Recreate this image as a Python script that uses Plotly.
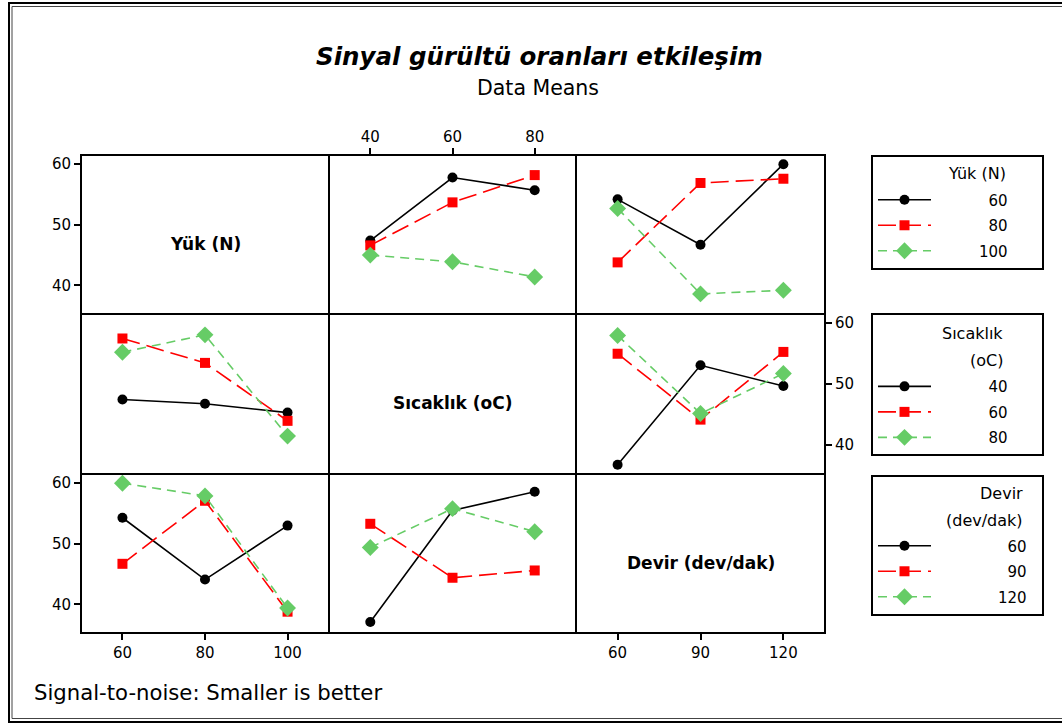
import plotly.graph_objects as go

W, H = 1062, 724

# ---------------- text ----------------
title_text = "Sinyal gürültü oranları etkileşim"
subtitle_text = "Data Means"
footer_text = "Signal-to-noise: Smaller is better"
factor_names = ["Yük (N)", "Sıcaklık (oC)", "Devir (dev/dak)"]
legend_titles = [["Yük (N)"], ["Sıcaklık", "(oC)"], ["Devir", "(dev/dak)"]]

# ---------------- factor levels (x categories / legend entries) ----------------
yuk_levels = ["60", "80", "100"]
sicaklik_levels = ["40", "60", "80"]
devir_levels = ["60", "90", "120"]
y_ticks = [40, 50, 60]

# ---------------- data means (S/N ratios) ----------------
# row 1: series = Yük (60, 80, 100)
yuk60_vs_sicaklik = [47.4, 57.8, 55.7]
yuk80_vs_sicaklik = [46.6, 53.7, 58.2]
yuk100_vs_sicaklik = [45.0, 43.9, 41.4]
yuk60_vs_devir = [54.2, 46.7, 60.0]
yuk80_vs_devir = [43.8, 56.9, 57.6]
yuk100_vs_devir = [52.7, 38.6, 39.2]
# row 2: series = Sıcaklık (40, 60, 80)
sic40_vs_yuk = [47.5, 46.8, 45.35]
sic60_vs_yuk = [57.5, 53.5, 44.0]
sic80_vs_yuk = [55.25, 58.1, 41.5]
sic40_vs_devir = [36.8, 53.1, 49.7]
sic60_vs_devir = [55.0, 44.2, 55.3]
sic80_vs_devir = [58.0, 45.2, 51.75]
# row 3: series = Devir (60, 90, 120)
dev60_vs_yuk = [54.3, 44.1, 53.0]
dev90_vs_yuk = [46.7, 57.1, 38.8]
dev120_vs_yuk = [60.0, 57.9, 39.4]
dev60_vs_sicaklik = [37.1, 55.5, 58.6]
dev90_vs_sicaklik = [53.3, 44.4, 45.6]
dev120_vs_sicaklik = [49.4, 55.8, 52.0]

levels = [yuk_levels, sicaklik_levels, devir_levels]
panels = {
    (0, 1): [yuk60_vs_sicaklik, yuk80_vs_sicaklik, yuk100_vs_sicaklik],
    (0, 2): [yuk60_vs_devir, yuk80_vs_devir, yuk100_vs_devir],
    (1, 0): [sic40_vs_yuk, sic60_vs_yuk, sic80_vs_yuk],
    (1, 2): [sic40_vs_devir, sic60_vs_devir, sic80_vs_devir],
    (2, 0): [dev60_vs_yuk, dev90_vs_yuk, dev120_vs_yuk],
    (2, 1): [dev60_vs_sicaklik, dev90_vs_sicaklik, dev120_vs_sicaklik],
}

# ---------------- styles / layout geometry ----------------
FONT = "DejaVu Sans"
series_styles = [
    dict(color="#000000", dash="solid", symbol="circle", size=10),
    dict(color="#FF0000", dash="18px,7px", symbol="square", size=10),
    dict(color="#66CC66", dash="9px,6px", symbol="diamond", size=13),
]
LW = 2
col_px = [81, 329, 576, 825]
row_px = [155, 314, 474, 633]
y_range = [35.45, 61.35]
x_range = [-0.49, 2.49]
legend_left_px = 871
legend_top_px = [155, 313, 475]
# legend label layout: (digits before label end, trailing figure spaces)
legend_pad = [(7, 3), (7, 3), (9, 1)]
legend_title_spacer = [20.4, 21.2, 20.2]
legend_title_right_px = [1008, 1005, 1025]
legend_title_y_px = [[173], [333, 360], [493, 520]]
FS = "\u2007"   # figure space (digit width)
NB = "\u00a0"   # no-break space


def px_x(p):
    return p / W


def px_y(p):
    return 1 - p / H


def pad_label(s, total, trail):
    return NB + FS * (total - len(s)) + s + FS * trail


fig = go.Figure()
layout = dict(
    width=W, height=H, autosize=False,
    margin=dict(l=0, r=0, t=0, b=0),
    paper_bgcolor="white", plot_bgcolor="white",
    font=dict(family=FONT, color="black", size=15),
    showlegend=True,
)

legend_names = ["legend", "legend2", "legend3"]
tick_font = dict(size=15, family=FONT, color="black")

for r in range(3):
    for c in range(3):
        k = r * 3 + c + 1
        xa = "xaxis" if k == 1 else f"xaxis{k}"
        ya = "yaxis" if k == 1 else f"yaxis{k}"
        xref = "x" if k == 1 else f"x{k}"
        yref = "y" if k == 1 else f"y{k}"
        half = LW / 2

        xax = dict(
            domain=[px_x(col_px[c] + half), px_x(col_px[c + 1] - half)],
            anchor=yref, type="category",
            categoryorder="array", categoryarray=levels[c],
            range=x_range,
            showline=True, mirror=True, linecolor="black", linewidth=LW,
            showgrid=False, zeroline=False, fixedrange=True,
            tickfont=tick_font,
        )
        show_x = (c == 1 and r == 0) or (c in (0, 2) and r == 2)
        if show_x:
            xax.update(ticks="outside", ticklen=6, tickwidth=1.5, tickcolor="black",
                       showticklabels=True, side="top" if r == 0 else "bottom")
        else:
            xax.update(ticks="", showticklabels=False)
        layout[xa] = xax

        yax = dict(
            domain=[px_y(row_px[r + 1] - half), px_y(row_px[r] + half)],
            anchor=xref, range=y_range, tickvals=y_ticks,
            showline=True, mirror=True, linecolor="black", linewidth=LW,
            showgrid=False, zeroline=False, fixedrange=True,
            tickfont=tick_font,
        )
        show_y = (c == 0 and r in (0, 2)) or (c == 2 and r == 1)
        if show_y:
            yax.update(ticks="outside", ticklen=6, tickwidth=1.5, tickcolor="black",
                       showticklabels=True, side="right" if c == 2 else "left")
        else:
            yax.update(ticks="", showticklabels=False)
        layout[ya] = yax

        if r == c:
            fig.add_trace(go.Scatter(x=levels[c], y=[None] * 3, xaxis=xref, yaxis=yref,
                                     mode="lines", showlegend=False, hoverinfo="skip"))
            continue

        series = panels[(r, c)]
        first_in_row = (c == 0) or (r == 0 and c == 1)
        total, trail = legend_pad[r]
        for s, vals in enumerate(series):
            st = series_styles[s]
            fig.add_trace(go.Scatter(
                x=levels[c], y=vals, xaxis=xref, yaxis=yref,
                mode="lines+markers",
                name=pad_label(levels[r][s], total, trail),
                legend=legend_names[r],
                legendgroup=f"r{r}s{s}",
                showlegend=first_in_row,
                line=dict(color=st["color"], dash=st["dash"], width=1.6),
                marker=dict(color=st["color"], symbol=st["symbol"], size=st["size"],
                            line=dict(width=0)),
            ))

annotations = []

# legends (titles drawn as annotations, legend title used as spacer)
for r in range(3):
    n_lines = len(legend_titles[r])
    spacer = "<br>".join([FS] * n_lines)
    layout[legend_names[r]] = dict(
        x=px_x(legend_left_px), y=px_y(legend_top_px[r]),
        xanchor="left", yanchor="top",
        bgcolor="white", bordercolor="black", borderwidth=2,
        font=dict(family=FONT, size=15, color="black"),
        title=dict(text=spacer, side="top", font=dict(family=FONT, size=legend_title_spacer[r])),
        itemwidth=53, traceorder="grouped", tracegroupgap=3,
        itemclick=False, itemdoubleclick=False,
    )
    for line, ypx in zip(legend_titles[r], legend_title_y_px[r]):
        annotations.append(dict(
            text=line, xref="paper", yref="paper",
            x=px_x(legend_title_right_px[r]), y=px_y(ypx),
            xanchor="right", yanchor="middle", showarrow=False,
            font=dict(family=FONT, size=16, color="black"),
        ))

# diagonal factor names
for i, name in enumerate(factor_names):
    k = i * 3 + i + 1
    xr = "x" if k == 1 else f"x{k}"
    yr = "y" if k == 1 else f"y{k}"
    annotations.append(dict(
        text=f"<b>{name}</b>", xref=f"{xr} domain", yref=f"{yr} domain",
        x=0.5, y=0.44, showarrow=False, xanchor="center", yanchor="middle",
        font=dict(family=FONT, size=17, color="black"),
    ))
annotations.append(dict(
    text=f"<b><i>{title_text}</i></b>", xref="paper", yref="paper",
    x=px_x(539), y=px_y(57), showarrow=False, xanchor="center", yanchor="middle",
    font=dict(family=FONT, size=24.5, color="black"),
))
annotations.append(dict(
    text=subtitle_text, xref="paper", yref="paper",
    x=px_x(538), y=px_y(88), showarrow=False, xanchor="center", yanchor="middle",
    font=dict(family=FONT, size=20.5, color="black"),
))
annotations.append(dict(
    text=footer_text, xref="paper", yref="paper",
    x=px_x(32), y=px_y(692), showarrow=False, xanchor="left", yanchor="middle",
    font=dict(family=FONT, size=21.2, color="black"),
))
layout["annotations"] = annotations

layout["shapes"] = [
    dict(type="rect", xref="paper", yref="paper",
         x0=px_x(9), x1=px_x(1080), y0=px_y(722), y1=px_y(3),
         line=dict(color="black", width=2), fillcolor="rgba(0,0,0,0)", layer="above"),
    dict(type="rect", xref="paper", yref="paper",
         x0=px_x(12), x1=px_x(1080), y0=px_y(718.5), y1=px_y(6.5),
         line=dict(color="#444444", width=1), fillcolor="rgba(0,0,0,0)", layer="above"),
]

fig.update_layout(layout)
fig.write_html("out.html")
